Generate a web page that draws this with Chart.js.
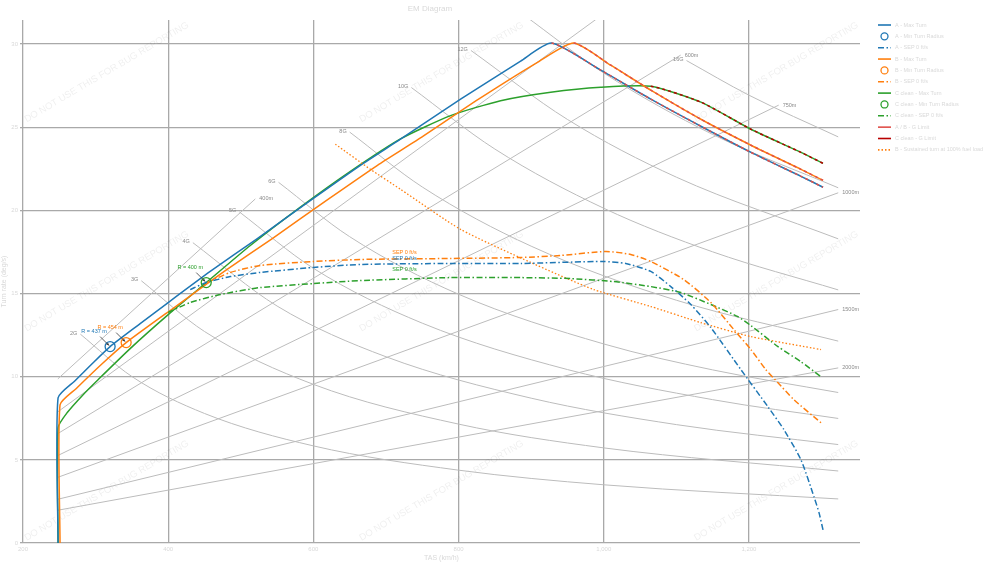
<!DOCTYPE html>
<html lang="en">
<head>
<meta charset="UTF-8">
<title>EM Diagram</title>
<script src="https://cdn.jsdelivr.net/npm/chart.js"></script>
<style>
  html, body { margin: 0; padding: 0; background: #fff; }
  #wrap { width: 1000px; height: 562px; position: relative; }
</style>
</head>
<body>
<div id="wrap"><canvas id="em"></canvas></div>
<script>
// speed is TAS in km/h, turn rate in deg/s
const xTicks = [200, 400, 600, 800, 1000, 1200];
const yTicks = [0, 5, 10, 15, 20, 25, 30];

// load factor lines
const gLabels = ['2G', '3G', '4G', '5G', '6G', '8G', '10G', '12G', '14G', '16G'];
const gSpeed = [
  [279, 350, 450, 600, 800, 1000, 1323],
  [363, 450, 600, 800, 1000, 1323],
  [434, 550, 700, 900, 1100, 1323],
  [498, 600, 750, 950, 1150, 1323],
  [552, 650, 800, 1000, 1150, 1323],
  [650, 750, 900, 1100, 1323],
  [735, 850, 1000, 1150, 1323],
  [817, 950, 1100, 1323],
  [890, 1000, 1150, 1323],
  [1114, 1200, 1323]
];
const gRate = [
  [12.56, 10.01, 7.79, 5.84, 4.38, 3.50, 2.65],
  [15.77, 12.72, 9.54, 7.15, 5.72, 4.33],
  [18.06, 14.25, 11.20, 8.71, 7.12, 5.92],
  [19.91, 16.52, 13.22, 10.43, 8.62, 7.49],
  [21.69, 18.42, 14.96, 11.97, 10.41, 9.05],
  [24.71, 21.41, 17.85, 14.60, 12.14],
  [27.39, 23.69, 20.13, 17.51, 15.22],
  [29.62, 25.47, 22.00, 18.29],
  [31.75, 28.26, 24.57, 21.36],
  [29.01, 26.93, 24.42]
];

// turn radius lines
const radiusLabels = ['400m', '500m', '600m', '750m', '1000m', '1500m', '2000m'];
const radiusSpeed = [[248, 520], [248, 990], [248, 1106], [248, 1241], [248, 1323], [248, 1323], [248, 1323]];
const radiusRate = [[9.87, 20.69], [7.89, 31.51], [6.58, 29.34], [5.26, 26.33], [3.95, 21.06], [2.63, 14.04], [1.97, 10.53]];

// aircraft A (blue)
const maxSpeedA = [248.3, 248.3, 271.7, 295.2, 320.0, 361.4, 400.0, 457.9, 522.8, 600.0, 664.8, 720.0, 802.8, 885.5, 928.0, 995.9, 1064.8, 1133.8, 1202.8, 1271.7, 1302.1];
const maxRateA = [0, 8.73, 9.76, 10.78, 11.81, 13.19, 14.46, 16.33, 18.31, 20.72, 22.71, 24.28, 26.69, 28.98, 30.06, 28.43, 26.69, 25.06, 23.49, 22.05, 21.39];
const sepSpeedA = [430.3, 452.4, 485.5, 526.9, 600.0, 664.8, 789.0, 885.5, 1000.0, 1030.3, 1064.8, 1092.4, 1120.0, 1147.6, 1189.0, 1226.2, 1248.3, 1271.7, 1289.7, 1296.6, 1302.1];
const sepRateA = [15.24, 15.66, 16.02, 16.27, 16.57, 16.75, 16.81, 16.81, 16.93, 16.81, 16.33, 15.42, 14.34, 12.95, 10.42, 8.19, 6.81, 5.00, 2.77, 1.81, 0.78];

// aircraft B (orange)
const maxSpeedB = [251.0, 251.0, 273.1, 309.0, 342.1, 408.3, 477.2, 543.4, 622.1, 688.3, 744.8, 827.6, 911.7, 958.6, 1009.7, 1064.8, 1133.8, 1202.8, 1271.7, 1302.1];
const maxRateB = [0, 8.31, 9.28, 10.78, 12.05, 14.16, 16.33, 18.31, 20.72, 22.71, 24.28, 26.69, 28.98, 30.06, 28.73, 27.23, 25.48, 23.92, 22.47, 21.81];
const sepSpeedB = [453.8, 485.5, 526.9, 600.0, 664.8, 789.0, 885.5, 940.7, 1002.8, 1037.2, 1064.8, 1110.3, 1147.6, 1179.3, 1202.8, 1223.4, 1240.0, 1262.1, 1299.3];
const sepRateB = [15.66, 16.27, 16.69, 16.93, 17.05, 17.11, 17.17, 17.29, 17.53, 17.35, 16.93, 15.84, 14.46, 12.83, 11.63, 10.42, 9.64, 8.61, 7.23];
const sustSpeedB = [630.3, 678.6, 720.0, 802.8, 899.3, 986.2, 1064.8, 1133.8, 1202.8, 1299.3];
const sustRateB = [23.98, 22.47, 21.27, 18.86, 16.87, 15.24, 14.22, 13.25, 12.41, 11.63];

// aircraft C (green)
const maxSpeedC = [248.3, 248.3, 260.7, 282.8, 303.4, 347.6, 400.0, 452.4, 513.1, 582.1, 651.0, 720.0, 789.0, 857.9, 926.9, 995.9, 1064.8, 1133.8, 1202.8, 1271.7, 1302.1];
const maxRateC = [0, 6.93, 7.83, 8.92, 9.82, 11.69, 13.73, 15.66, 17.89, 20.20, 22.35, 24.30, 25.70, 26.60, 27.11, 27.41, 27.47, 26.51, 24.88, 23.49, 22.83];
const sepSpeedC = [400.0, 430.3, 471.7, 526.9, 600.0, 664.8, 789.0, 885.5, 954.5, 1013.8, 1064.8, 1106.2, 1147.6, 1184.8, 1202.8, 1240.0, 1271.7, 1299.3];
const sepRateC = [13.86, 14.46, 14.94, 15.36, 15.60, 15.78, 15.96, 15.96, 15.90, 15.72, 15.42, 15.06, 14.34, 13.61, 13.07, 11.81, 10.90, 10.00];

// min turn radius points
const minRadiusSpeed = [320.0, 342.1, 452.4];
const minRadiusRate = [11.81, 12.05, 15.66];
const minRadiusText = ['R = 437 m', 'R = 454 m', 'R = 400 m'];

const FONT = '"Liberation Sans", Arial, sans-serif';
const faint = '#d9d9d9';
const BLUE = '#1f77b4', ORANGE = '#ff7f0e', GREEN = '#2ca02c';
const RED1 = '#e0504a', RED2 = '#b80000';
const DASHDOT = [6, 2.5, 1.5, 2.5];

function pts(xs, ys) {
  return xs.map((x, i) => ({ x: x, y: ys[i] }));
}
function peakIndex(arr) {
  return arr.indexOf(Math.max(...arr));
}

const datasets = [];

gLabels.forEach((g, i) => {
  datasets.push({ label: g, data: pts(gSpeed[i], gRate[i]), borderColor: '#bcbcbc', borderWidth: 1,
    cubicInterpolationMode: 'monotone', order: 10 });
});
radiusLabels.forEach((r, i) => {
  datasets.push({ label: r, data: pts(radiusSpeed[i], radiusRate[i]), borderColor: '#bcbcbc', borderWidth: 1,
    tension: 0, order: 10 });
});

function curve(label, xs, ys, color, dash, order, legendText) {
  return { label: label, data: pts(xs, ys), borderColor: color, borderWidth: 1.5, borderDash: dash,
    tension: 0.2, order: order, legendText: legendText };
}
function marker(i, color, legendText) {
  return { label: legendText, data: [{ x: minRadiusSpeed[i], y: minRadiusRate[i] }], showLine: false,
    pointRadius: 5, pointBorderWidth: 1.3, pointBorderColor: color, pointBackgroundColor: 'rgba(0,0,0,0)',
    borderColor: color, order: 0, legendText: legendText, legendMarker: true };
}
// red limit drawn on top of the descending part of a max turn curve
function limit(xs, ys, color, legendText) {
  const from = peakIndex(ys);
  return { label: legendText || 'limit', data: pts(xs, ys), borderColor: color, borderWidth: 1.5, borderDash: [3, 3],
    tension: 0.2, order: 1, legendText: legendText,
    segment: { borderColor: c => c.p0DataIndex >= from ? color : 'rgba(0,0,0,0)' } };
}

datasets.push(curve('A max', maxSpeedA, maxRateA, BLUE, [], 3, 'A - Max Turn'));
datasets.push(marker(0, BLUE, 'A - Min Turn Radius'));
datasets.push(curve('A sep', sepSpeedA, sepRateA, BLUE, DASHDOT, 2, 'A - SEP 0 ft/s'));
datasets.push(curve('B max', maxSpeedB, maxRateB, ORANGE, [], 3, 'B - Max Turn'));
datasets.push(marker(1, ORANGE, 'B - Min Turn Radius'));
datasets.push(curve('B sep', sepSpeedB, sepRateB, ORANGE, DASHDOT, 2, 'B - SEP 0 ft/s'));
datasets.push(curve('C max', maxSpeedC, maxRateC, GREEN, [], 3, 'C clean - Max Turn'));
datasets.push(marker(2, GREEN, 'C clean - Min Turn Radius'));
datasets.push(curve('C sep', sepSpeedC, sepRateC, GREEN, DASHDOT, 2, 'C clean - SEP 0 ft/s'));
datasets.push(limit(maxSpeedA, maxRateA, RED1, 'A / B - G Limit'));
datasets.push(limit(maxSpeedB, maxRateB, RED1));
datasets.push(limit(maxSpeedC, maxRateC, RED2, 'C clean - G Limit'));
datasets.push(curve('B sust', sustSpeedB, sustRateB, ORANGE, [1.5, 2], 2, 'B - Sustained turn at 100% fuel load'));
datasets[datasets.length - 1].borderWidth = 1.3;

const watermark = {
  id: 'watermark',
  beforeDatasetsDraw(chart) {
    const { ctx, chartArea: a } = chart;
    const text = 'DO NOT USE THIS FOR BUG REPORTING';
    ctx.save();
    ctx.font = '10px ' + FONT;
    const size = 10 * 189 / ctx.measureText(text).width;
    ctx.font = size.toFixed(2) + 'px ' + FONT;
    ctx.fillStyle = 'rgba(0,0,0,0.065)';
    ctx.textAlign = 'center';
    ctx.textBaseline = 'middle';
    [0.1, 0.5, 0.9].forEach(fx => {
      [0.1, 0.5, 0.9].forEach(fy => {
        ctx.save();
        ctx.translate(a.left + fx * (a.right - a.left), a.top + fy * (a.bottom - a.top));
        ctx.rotate(-30.5 * Math.PI / 180);
        ctx.fillText(text, 0, 0);
        ctx.restore();
      });
    });
    ctx.restore();
  }
};

function arrow(ctx, x1, y1, x2, y2) {
  ctx.beginPath();
  ctx.moveTo(x1, y1);
  ctx.lineTo(x2, y2);
  ctx.stroke();
  const ang = Math.atan2(y2 - y1, x2 - x1), h = 3;
  ctx.beginPath();
  ctx.moveTo(x2, y2);
  ctx.lineTo(x2 - h * Math.cos(ang - 0.45), y2 - h * Math.sin(ang - 0.45));
  ctx.lineTo(x2 - h * Math.cos(ang + 0.45), y2 - h * Math.sin(ang + 0.45));
  ctx.closePath();
  ctx.fill();
}

const notes = {
  id: 'notes',
  afterDatasetsDraw(chart, args, opts) {
    const { ctx, chartArea: a, scales: { x, y } } = chart;
    ctx.save();
    ctx.beginPath();
    ctx.rect(a.left, a.top, a.right - a.left, a.bottom - a.top);
    ctx.clip();
    ctx.font = '5.5px ' + FONT;
    ctx.textBaseline = 'middle';
    ctx.fillStyle = '#8a8a8a';

    // G labels at the start of each load factor line
    ctx.textAlign = 'right';
    gLabels.forEach((g, i) => {
      const px = x.getPixelForValue(gSpeed[i][0]), py = y.getPixelForValue(gRate[i][0]);
      if (py > a.top + 3) ctx.fillText(g, px - 3, py - 1);
    });
    // radius labels at the end of each radius line
    ctx.textAlign = 'left';
    radiusLabels.forEach((r, i) => {
      const n = radiusSpeed[i].length - 1;
      const px = x.getPixelForValue(radiusSpeed[i][n]), py = y.getPixelForValue(radiusRate[i][n]);
      if (py > a.top + 3) ctx.fillText(r, px + 4, py);
    });

    // min radius call-outs
    ctx.textAlign = 'center';
    ctx.strokeStyle = '#3a3a3a';
    ctx.lineWidth = 0.8;
    minRadiusText.forEach((t, i) => {
      const px = x.getPixelForValue(minRadiusSpeed[i]), py = y.getPixelForValue(minRadiusRate[i]);
      ctx.fillStyle = opts.noteColors[i];
      ctx.fillText(t, px - 16, py - 15);
      ctx.fillStyle = '#3a3a3a';
      arrow(ctx, px - 10, py - 10, px - 1, py - 1);
    });

    // SEP labels
    opts.sepLabels.forEach(s => {
      ctx.fillStyle = s.color;
      ctx.fillText('SEP 0 ft/s', x.getPixelForValue(s.x), y.getPixelForValue(s.y));
    });
    ctx.restore();
  }
};

const sideLegend = {
  id: 'sideLegend',
  afterDraw(chart) {
    const { ctx, chartArea: a } = chart;
    const items = chart.data.datasets.filter(d => d.legendText);
    const x0 = a.right + 18;
    ctx.save();
    ctx.font = '5.5px ' + FONT;
    ctx.textBaseline = 'middle';
    ctx.textAlign = 'left';
    items.forEach((d, i) => {
      const yy = 25 + i * 11.35;
      if (d.legendMarker) {
        ctx.beginPath();
        ctx.arc(x0 + 6.5, yy, 3.5, 0, Math.PI * 2);
        ctx.strokeStyle = d.pointBorderColor;
        ctx.lineWidth = 1.3;
        ctx.setLineDash([]);
        ctx.stroke();
      } else {
        ctx.beginPath();
        ctx.moveTo(x0, yy);
        ctx.lineTo(x0 + 13, yy);
        ctx.strokeStyle = d.borderColor;
        ctx.lineWidth = 1.6;
        ctx.setLineDash(d.legendText.indexOf('Limit') >= 0 ? [] : (d.borderDash || []));
        ctx.stroke();
      }
      ctx.fillStyle = faint;
      ctx.fillText(d.legendText, x0 + 17, yy);
    });
    ctx.restore();
  }
};

new Chart(document.getElementById('em'), {
  type: 'line',
  data: { datasets: datasets },
  plugins: [watermark, notes, sideLegend],
  options: {
    responsive: true,
    maintainAspectRatio: false,
    animation: false,
    layout: { padding: { left: 0, right: 140, top: 0, bottom: 0 } },
    elements: { point: { radius: 0, hoverRadius: 0 }, line: { borderWidth: 1.5 } },
    plugins: {
      legend: { display: false },
      tooltip: { enabled: false },
      title: { display: true, text: 'EM Diagram', color: faint, font: { family: FONT, size: 8, weight: 'normal' },
        padding: { top: 4, bottom: 6.4 } },
      notes: {
        noteColors: [BLUE, ORANGE, GREEN],
        sepLabels: [
          { x: 725.5, y: 17.47, color: ORANGE },
          { x: 725.5, y: 17.11, color: BLUE },
          { x: 725.5, y: 16.45, color: GREEN }
        ]
      }
    },
    scales: {
      x: {
        type: 'linear', min: 200, max: 1353,
        afterBuildTicks: s => { s.ticks = xTicks.map(v => ({ value: v })); },
        afterFit: s => { s.height = 19; },
        grid: { color: '#a9a9a9', lineWidth: 1.3, drawTicks: false },
        border: { display: false },
        ticks: { color: faint, font: { family: FONT, size: 6 }, padding: 3, maxRotation: 0 },
        title: { display: true, text: 'TAS (km/h)', color: faint, font: { family: FONT, size: 7 }, padding: 0 }
      },
      y: {
        type: 'linear', min: 0, max: 31.45,
        afterBuildTicks: s => { s.ticks = yTicks.map(v => ({ value: v })); },
        afterFit: s => { s.width = 23; },
        grid: { color: '#a9a9a9', lineWidth: 1.3, tickLength: 3 },
        border: { display: false },
        ticks: { color: faint, font: { family: FONT, size: 6 }, padding: 2 },
        title: { display: true, text: 'Turn rate (deg/s)', color: faint, font: { family: FONT, size: 7 }, padding: 0 }
      }
    }
  }
});
</script>
</body>
</html>
